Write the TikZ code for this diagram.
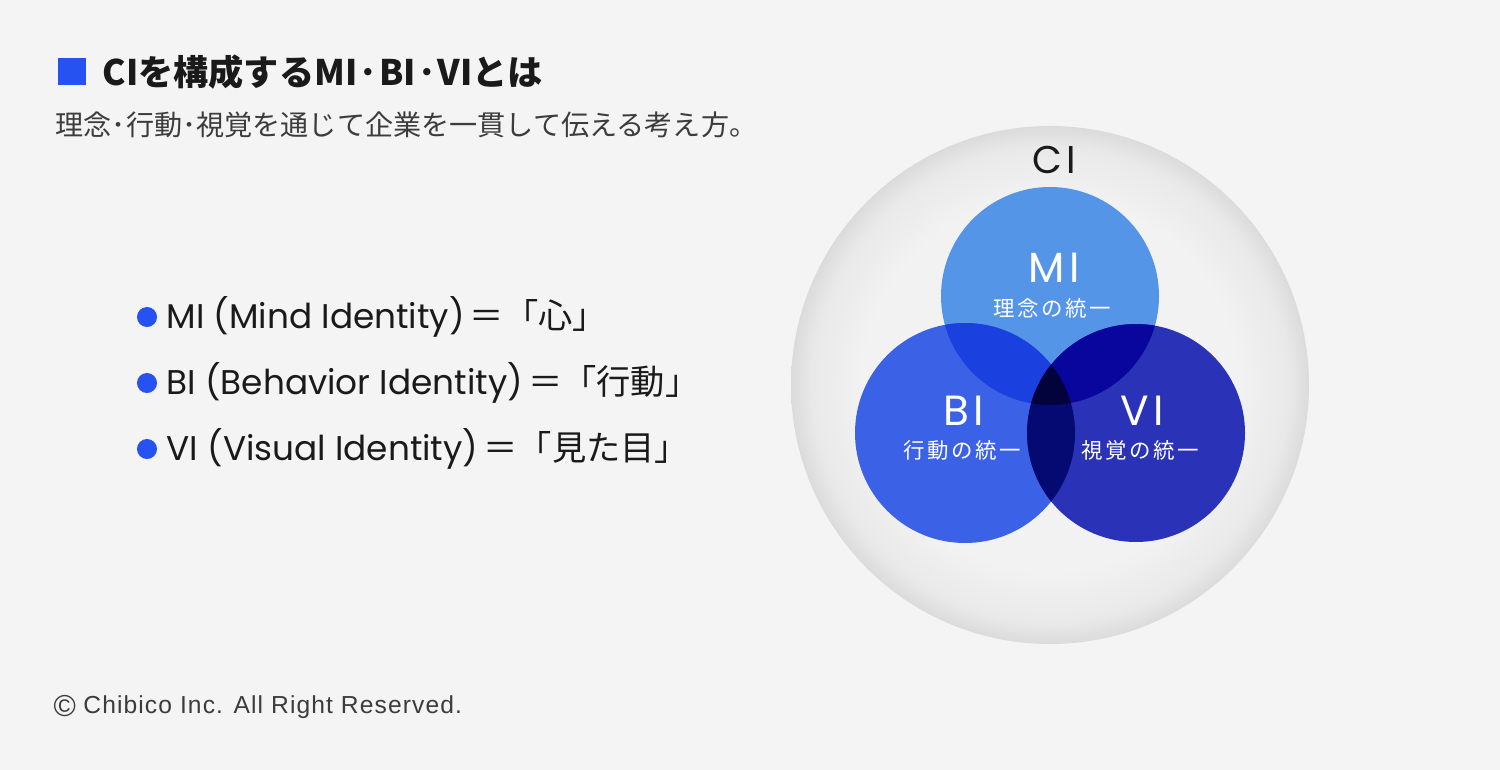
\documentclass[tikz,border=0pt]{standalone}
\usepackage{fontspec}
\setmainfont{Noto Sans CJK JP}
\newfontfamily\geofont{Poppins}
\newfontfamily\circfont[LetterSpace=10]{Poppins}
\newfontfamily\subfont[LetterSpace=12]{Noto Sans CJK JP}
\newfontfamily\copyfont[LetterSpace=4.5]{Liberation Sans}
\newcommand\middot{\kern.06em･\kern.06em}
\newcommand\eqsign{\kern.15em＝}
\usetikzlibrary{positioning}
\definecolor{paper}{HTML}{F4F4F4}
\definecolor{accentblue}{HTML}{2652F2}
\definecolor{inkblack}{HTML}{1A1A1A}
\definecolor{miblue}{HTML}{5595E8}
\definecolor{biblue}{HTML}{3B62E6}
\definecolor{viblue}{HTML}{2A32B8}
\definecolor{mibiblue}{HTML}{1A40E0}
\definecolor{miviblue}{HTML}{08069C}
\definecolor{biviblue}{HTML}{050A72}
\definecolor{coreblue}{HTML}{03033C}
\definecolor{cicore}{HTML}{F2F2F2}
\definecolor{cimid}{HTML}{E9E9E9}
\definecolor{ciedge}{HTML}{DBDBDB}
% the path fills the inner 50bp square of the shading
\pgfdeclareradialshading{cisphere}{\pgfpoint{0bp}{0bp}}{%
  color(0bp)=(cicore); color(18bp)=(cicore); color(23bp)=(cimid); color(25bp)=(ciedge); color(50bp)=(ciedge)}
\tikzset{
  heading/.style={font=\bfseries\fontsize{10}{11}\selectfont,text=inkblack,anchor=west,inner sep=0pt},
  lead/.style={font=\fontsize{8}{9}\selectfont,text=inkblack!85,anchor=west,inner sep=0pt},
  bullettext/.style={font=\fontsize{9.75}{11}\selectfont,text=inkblack,anchor=west,inner sep=0pt},
  bulletdot/.style={circle,fill=accentblue,inner sep=0pt,minimum size=2mm},
  cilabel/.style={font=\circfont\fontsize{11}{12}\selectfont,text=inkblack,inner sep=0pt},
  circlabel/.style={font=\circfont\fontsize{12}{12}\selectfont,text=white,inner sep=0pt},
  circsub/.style={font=\subfont\fontsize{6.1}{7}\selectfont,text=white,inner sep=0pt},
  notice/.style={font=\copyfont\fontsize{7}{8}\selectfont,text=inkblack!85,anchor=west,inner sep=0pt}
}
\begin{document}
\begin{tikzpicture}[x=0.01cm,y=-0.01cm]
\useasboundingbox (0,0) rectangle (1500,770);
\fill[paper] (0,0) rectangle (1500,770);

% heading
\fill[accentblue] (58,58) rectangle (86,85);
\node[heading] (title) at (102,72) {CIを構成するMI\middot BI\middot VIとは};
\node[lead] (subtitle) at (55,125) {理念･行動･視覚を通じて企業を一貫して伝える考え方。};

% list
\node[bulletdot] (dotmi) at (147,317) {};
\node[bulletdot] (dotbi) at (147,383) {};
\node[bulletdot] (dotvi) at (147,449) {};
\node[bullettext] (itemmi) at (166,317) {{\geofont MI (Mind Identity)}\eqsign「心」};
\node[bullettext] (itembi) at (166,383) {{\geofont BI (Behavior Identity)}\eqsign「行動」};
\node[bullettext] (itemvi) at (166,449) {{\geofont VI (Visual Identity)}\eqsign「見た目」};

% venn
\coordinate (ci) at (1050,385);
\coordinate (mi) at (1050,296);
\coordinate (bi) at (965,433);
\coordinate (vi) at (1136,433);

\shade[shading=cisphere] (ci) circle[radius=259];

\fill[miblue] (mi) circle[radius=109];
\fill[biblue] (bi) circle[radius=110];
\fill[viblue] (vi) circle[radius=109];
\begin{scope}
  \clip (mi) circle[radius=109];
  \fill[mibiblue] (bi) circle[radius=110];
  \fill[miviblue] (vi) circle[radius=109];
\end{scope}
\begin{scope}
  \clip (bi) circle[radius=110];
  \fill[biviblue] (vi) circle[radius=109];
  \clip (vi) circle[radius=109];
  \fill[coreblue] (mi) circle[radius=109];
\end{scope}

\node[cilabel] (cititle) at (1054,160) {CI};
\node[circlabel] (milabel) at (1054,268) {MI};
\node[circsub] (misub) at (1052,308) {理念の統一};
\node[circlabel] (bilabel) at (964,411) {BI};
\node[circsub] (bisub) at (962,450) {行動の統一};
\node[circlabel] (vilabel) at (1142,411) {VI};
\node[circsub] (visub) at (1140,450) {視覚の統一};

\node[notice] (copyright) at (53,707) {\raisebox{-.14em}{\fontsize{8.6}{8}\selectfont ©}\kern.3em Chibico Inc. All Right Reserved.};
\end{tikzpicture}
\end{document}
